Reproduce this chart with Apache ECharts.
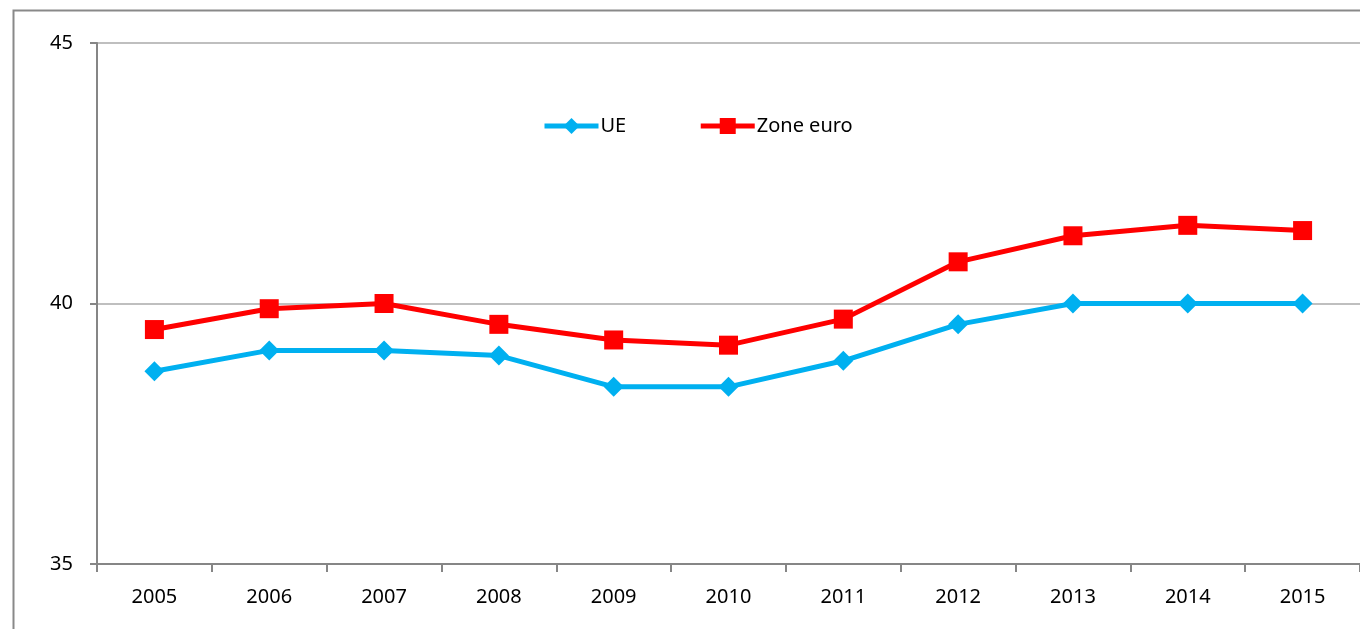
<!DOCTYPE html>
<html>
<head>
<meta charset="utf-8">
<script src="https://cdn.jsdelivr.net/npm/echarts@6/dist/echarts.min.js"></script>
<style>
  html, body { margin: 0; padding: 0; background: #fff; }
  #chart { width: 1360px; height: 629px; }
</style>
</head>
<body>
<div id="chart"></div>
<script>
const years = ['2005', '2006', '2007', '2008', '2009', '2010', '2011', '2012', '2013', '2014', '2015']
const ueValues = [38.7, 39.1, 39.1, 39.0, 38.4, 38.4, 38.9, 39.6, 40.0, 40.0, 40.0]
const zoneEuroValues = [39.5, 39.9, 40.0, 39.6, 39.3, 39.2, 39.7, 40.8, 41.3, 41.5, 41.4]

const fontFamily = '"Noto Sans", "Open Sans", sans-serif'

const chart = echarts.init(document.getElementById('chart'))

chart.setOption({
  animation: false,
  textStyle: { fontFamily },
  graphic: [{
    // outer chart frame
    type: 'polyline',
    shape: { points: [[13.5, 629], [13.5, 10.5], [1360, 10.5]] },
    style: { stroke: '#898989', lineWidth: 2, fill: null }
  }],
  legend: {
    left: 537,
    top: 111,
    itemWidth: 54,
    itemHeight: 20,
    itemGap: 72,
    lineStyle: { width: 5 },
    textStyle: { fontSize: 20, color: '#000', fontFamily, padding: [0, 0, 0, -3] },
    data: ['UE', 'Zone euro']
  },
  grid: {
    left: 97,
    top: 43,
    right: 0,
    bottom: 65,
    containLabel: false
  },
  xAxis: {
    type: 'category',
    data: years,
    boundaryGap: true,
    axisLine: { lineStyle: { color: '#868686', width: 2 } },
    axisTick: { show: true, length: 8, lineStyle: { color: '#868686', width: 2 } },
    axisLabel: { color: '#000', fontSize: 20, margin: 23 }
  },
  yAxis: {
    type: 'value',
    min: 35,
    max: 45,
    interval: 5,
    axisLine: { show: true, lineStyle: { color: '#868686', width: 2 } },
    axisTick: { show: true, length: 7, lineStyle: { color: '#868686', width: 2 } },
    axisLabel: { color: '#000', fontSize: 20, margin: 24 },
    splitLine: { lineStyle: { color: '#bfbfbf', width: 2 } }
  },
  series: [{
    name: 'UE',
    type: 'line',
    data: ueValues,
    symbol: 'diamond',
    symbolSize: 20,
    color: '#00b0f0',
    lineStyle: { width: 5, color: '#00b0f0' },
    itemStyle: { color: '#00b0f0' }
  }, {
    name: 'Zone euro',
    type: 'line',
    data: zoneEuroValues,
    symbol: 'rect',
    symbolSize: 19,
    color: '#ff0000',
    lineStyle: { width: 5, color: '#ff0000' },
    itemStyle: { color: '#ff0000' }
  }]
})
</script>
</body>
</html>
